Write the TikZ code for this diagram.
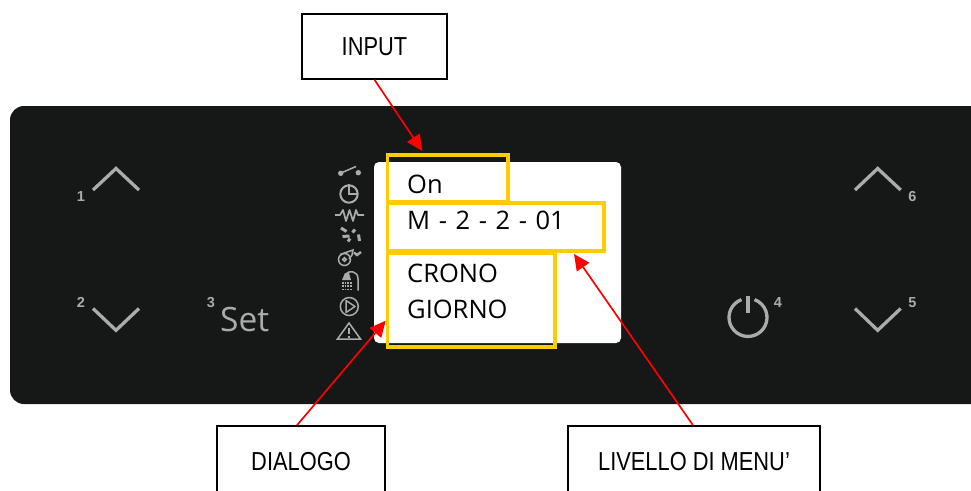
\documentclass[tikz,border=0pt]{standalone}
\usepackage{fontspec}
\setmainfont{Liberation Sans}
\newfontfamily\screenfont{Open Sans}
\newfontfamily\calloutfont[FakeStretch=0.84]{Liberation Sans}
\usetikzlibrary{arrows.meta}
\definecolor{panelcol}{HTML}{161817}
\definecolor{keycol}{HTML}{ABABAB}
\definecolor{framecol}{HTML}{FFCC00}
\tikzset{
  callout/.style={draw=black,line width=1.6pt,fill=white,inner sep=0pt,font=\calloutfont\fontsize{26}{30}\selectfont},
  frameline/.style={draw=framecol,line width=3.3pt},
  pointer/.style={draw=red,line width=1.7pt,-{Triangle[length=16pt,width=15pt]}},
  keyline/.style={draw=keycol,line width=3.3pt},
  iconline/.style={draw=keycol,line width=1.5pt},
  keynum/.style={text=keycol,font=\bfseries\fontsize{14.5}{15}\selectfont,inner sep=0pt},
  screentext/.style={anchor=base west,inner sep=0pt,font=\screenfont\fontsize{25.5}{36}\selectfont,text=black}
}
\begin{document}
\begin{tikzpicture}[x=1pt,y=-1pt]
  \useasboundingbox (0,0) rectangle (971,490);

  % Panel
  \fill[panelcol,rounded corners=14pt] (10,106) rectangle (1000,404);
  \fill[white,rounded corners=5pt] (374,162) rectangle (621,343);

  % Keys
  \draw[keyline] (93,190) -- (116,168.5) -- (139,190);
  \draw[keyline] (93,308.5) -- (116,330.3) -- (139,308.5);
  \draw[keyline] (855,190) -- (877.7,168.5) -- (900.7,190);
  \draw[keyline] (855,308.5) -- (877.7,330.3) -- (900.7,308.5);
  \draw[keyline] (741.5,299.6) arc[start angle=-110,end angle=-430,radius=19];
  \draw[keyline] (748,295.7) -- (748,313);
  \node[keynum] (num1) at (81,196.7) {1};
  \node[keynum] (num2) at (81,302.7) {2};
  \node[keynum] (num3) at (211,302.7) {3};
  \node[keynum] (num4) at (778,302.7) {4};
  \node[keynum] (num5) at (912.3,302.7) {5};
  \node[keynum] (num6) at (912.3,196.7) {6};
  \node[anchor=base west,inner sep=0pt,text=keycol,font=\screenfont\fontsize{33.5}{34}\selectfont] (setkey) at (220,331) {Set};

  % Icons
  \fill[keycol] (340.7,173.3) circle (2.7) (358.3,172.7) circle (2.7);
  \draw[iconline] (341,173) -- (356,166.5);
  \draw[iconline,line width=2pt] (349,194) circle (8.7);
  \draw[iconline,line width=2pt] (349,184) -- (349,194) -- (358,194);
  \draw[iconline,line width=1.7pt,line join=round] (335,215) -- (340,215) -- (343,210) -- (346,221) -- (349.5,210) -- (353,221) -- (356,210) -- (358,215) -- (364,215);
  \draw[keycol,line width=3pt] (341,228) -- (346.5,231.5) (342.5,236.5) -- (349.5,236) (352.5,232.5) -- (355,229.5) (348,241.5) -- (350,238.5) (358.5,234.5) -- (359.5,241);
  \draw[iconline] (344.5,259.5) circle (6) (344.5,259.5) circle (1.8);
  \draw[iconline] (340,254.5) -- (353,250) -- (352,255) -- (349,259);
  \draw[keycol,line width=2.4pt] (354,252.5) -- (357,255) -- (361,252);
  \draw[iconline] (346,274) .. controls (348,270.5) and (358,270) .. (358,279) -- (358,290.5);
  \fill[keycol] (345,273) -- (349,273) -- (351,280) -- (342,280) -- cycle;
  \draw[keycol,dash pattern=on 1.5pt off 1.2pt,line width=1.5pt] (342,283) -- (352,283) (342,286) -- (352,286) (342,289.5) -- (352,289.5);
  \draw[iconline] (349.3,306.5) circle (9);
  \draw[iconline,line join=round] (346,300.5) -- (355,306.5) -- (346,312.5) -- cycle;
  \draw[iconline] (349,323) -- (360.5,339) -- (337.5,339) -- cycle;
  \draw[keycol,line width=1.5pt] (349,328) -- (349,334) (349,335.5) -- (349,337.5);

  % Display text
  \node[screentext] (onlabel) at (407,193) {On};
  \node[screentext] (menulabel) at (407,229) {\spaceskip=8.6pt M - 2 - 2 - 01};
  \node[screentext] (cronolabel) at (407,282) {CRONO};
  \node[screentext] (giornolabel) at (407,318) {GIORNO};

  % Frames
  \draw[frameline] (387.3,155) rectangle (508,202);
  \draw[frameline] (387.3,203) rectangle (604,251);
  \draw[frameline] (387.3,253) rectangle (555,347);
  \coordinate (inputtip) at (422.3,151);
  \coordinate (dialogotip) at (385.7,320.7);
  \coordinate (livellotip) at (574,254);

  % Callouts
  \node[callout,minimum width=145pt,minimum height=65pt] (inputbox) at (374.5,46.5) {INPUT};
  \node[callout,minimum width=168pt,minimum height=72pt] (dialogobox) at (301,462) {DIALOGO};
  \node[callout,minimum width=252pt,minimum height=72pt] (livellobox) at (694,462) {LIVELLO DI MENU’};
  \draw[pointer] (inputbox.south) -- (inputtip);
  \draw[pointer] (dialogobox.north) ++(-4,0) -- (dialogotip);
  \draw[pointer] (livellobox.north) ++(-1,0) -- (livellotip);
\end{tikzpicture}
\end{document}
